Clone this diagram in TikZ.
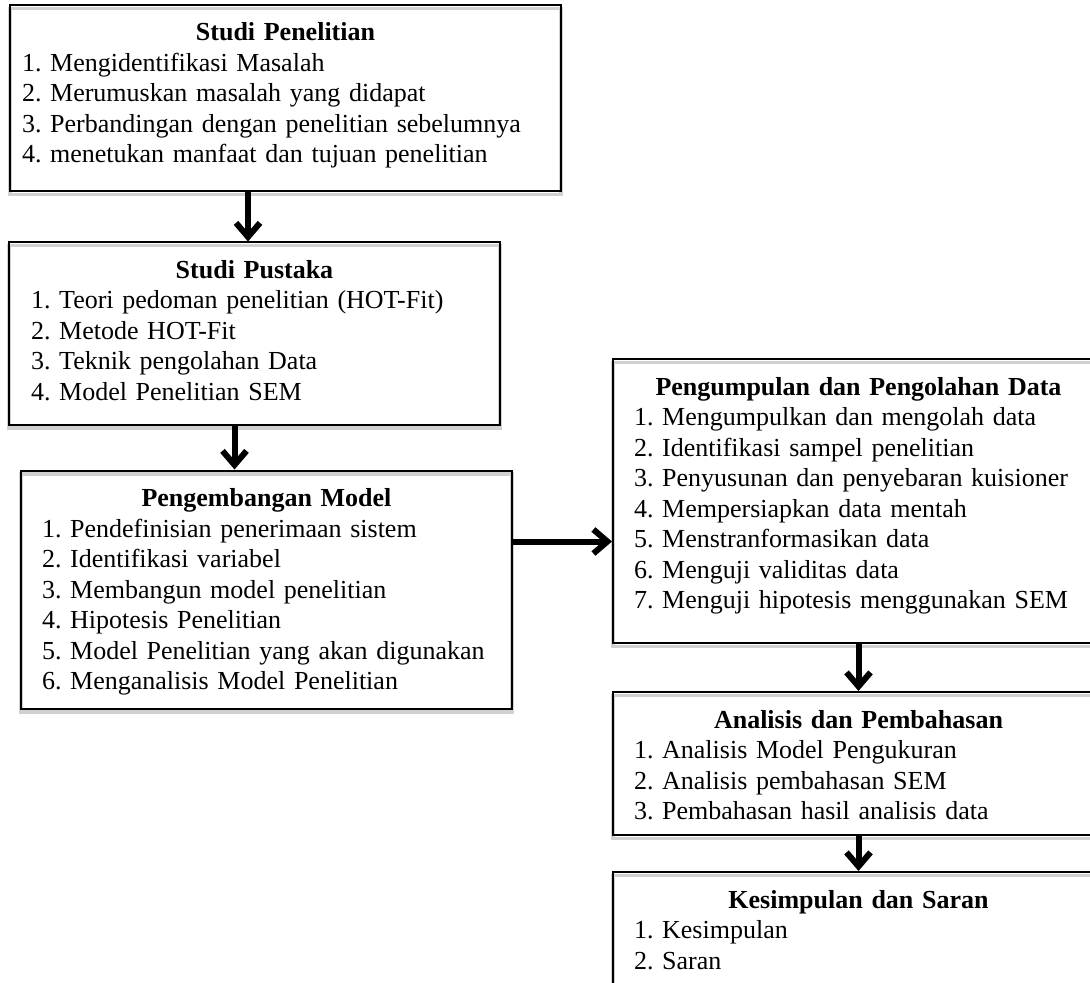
\documentclass[tikz,border=0pt]{standalone}
\usepackage{fontspec}
\setmainfont{Liberation Serif}
\usetikzlibrary{arrows.meta, positioning}
\frenchspacing

\tikzset{
  stepbox/.style = {
    rectangle, draw=black, line width=1pt,
    preaction={draw=black!18, line width=1.6pt,
               transform canvas={yshift=-1.7pt}},
    text width=#1, align=left, inner ysep=0pt, inner xsep=10.5pt,
    font=\fontsize{13}{15.25}\selectfont
  },
  stepbox/.default = 224.5pt,
  arr/.style = {-{Straight Barb[length=7pt, width=12pt]}, line width=3pt},
}
% title line sits 18pt below the top edge, last line sets the bottom gap
\newcommand{\boxtitle}[1]{\makebox[\linewidth]{\rule{0pt}{18pt}\textbf{#1}}\\}
\newcommand{\boxend}[1]{\rule[-#1]{0pt}{#1}}

\begin{document}
\begin{tikzpicture}[x=0.5pt, y=-0.5pt]
  \clip (0,0) rectangle (1090,983);

  %% left column
  \node[stepbox=263.5pt, inner xsep=6pt, anchor=north west] (studi) at (9,4)
    {\boxtitle{Studi Penelitian}
     1. Mengidentifikasi Masalah\\
     2. Merumuskan masalah yang didapat\\
     3. Perbandingan dengan penelitian sebelumnya\\
     4. menetukan manfaat dan tujuan penelitian\boxend{14.25pt}};

  \node[stepbox=223.5pt, inner xsep=11pt,
        below=24.5pt of studi.south west, anchor=north west, xshift=-0.5pt] (pustaka)
    {\boxtitle{Studi Pustaka}
     1. Teori pedoman penelitian (HOT-Fit)\\
     2. Metode HOT-Fit\\
     3. Teknik pengolahan Data\\
     4. Model Penelitian SEM\boxend{12pt}};

  \node[stepbox, below=22pt of pustaka.south west, anchor=north west,
        xshift=6pt] (model)
    {\boxtitle{Pengembangan Model}
     1. Pendefinisian penerimaan sistem\\
     2. Identifikasi variabel\\
     3. Membangun model penelitian\\
     4. Hipotesis Penelitian\\
     5. Model Penelitian yang akan digunakan\\
     6. Menganalisis Model Penelitian\boxend{9.5pt}};

  %% right column
  \node[stepbox, anchor=north west] (olah) at (612,358)
    {\boxtitle{Pengumpulan dan Pengolahan Data}
     1. Mengumpulkan dan mengolah data\\
     2. Identifikasi sampel penelitian\\
     3. Penyusunan dan penyebaran kuisioner\\
     4. Mempersiapkan data mentah\\
     5. Menstranformasikan data\\
     6. Menguji validitas data\\
     7. Menguji hipotesis menggunakan SEM\boxend{17.25pt}};

  \node[stepbox, below=23.5pt of olah] (analisis)
    {\boxtitle{Analisis dan Pembahasan}
     1. Analisis Model Pengukuran\\
     2. Analisis pembahasan SEM\\
     3. Pembahasan hasil analisis data\boxend{7.75pt}};

  \node[stepbox, below=17.5pt of analisis] (simpul)
    {\boxtitle{Kesimpulan dan Saran}
     1. Kesimpulan\\
     2. Saran\boxend{25pt}};

  %% arrows
  \coordinate (a1) at ([xshift=-3.25pt]pustaka.north);
  \coordinate (a3) at ([yshift=24pt]model.east);
  \draw[arr] (a1 |- studi.south) -- (a1);
  \draw[arr] ([xshift=-10pt]pustaka.south) -- ([xshift=-10pt]pustaka.south |- model.north);
  \draw[arr] (a3) -- (a3 -| olah.west);
  \draw[arr] (olah) -- (analisis);
  \draw[arr] (analisis) -- (simpul);

\end{tikzpicture}
\end{document}
